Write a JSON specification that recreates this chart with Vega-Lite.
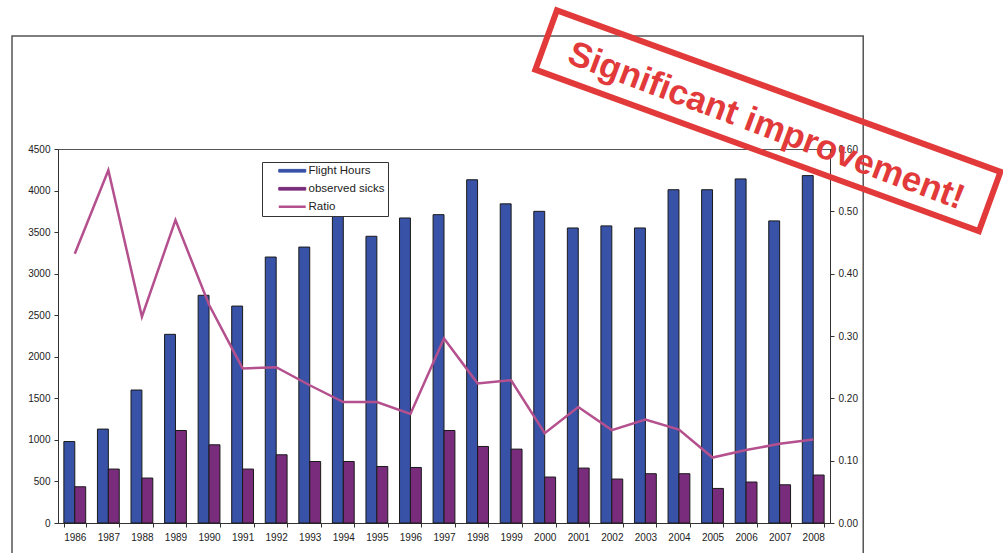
{
  "$schema": "https://vega.github.io/schema/vega-lite/v6.json",
  "width": 772,
  "height": 374,
  "autosize": {"type": "none"},
  "padding": {"left": 58, "top": 149, "right": 173, "bottom": 30},
  "background": "white",
  "config": {
    "font": "Liberation Sans",
    "view": {"stroke": "#555", "strokeWidth": 1},
    "axis": {
      "labelFont": "Liberation Sans",
      "labelFontSize": 10,
      "labelColor": "#222",
      "domainColor": "#333",
      "tickColor": "#333",
      "tickSize": 4,
      "labelPadding": 4,
      "grid": false,
      "title": null
    },
    "legend": {
      "title": null,
      "orient": "none",
      "legendX": 204,
      "legendY": 13,
      "direction": "vertical",
      "fillColor": "white",
      "strokeColor": "#333",
      "padding": 3,
      "symbolOffset": 21.5,
      "labelOffset": 10.5,
      "rowPadding": 5,
      "labelFont": "Liberation Sans",
      "labelFontSize": 11.5,
      "labelColor": "#222",
      "symbolSize": 100
    }
  },
  "datasets": {
    "safety": [
      {"year": 1986, "Flight Hours": 980, "observed sicks": 436, "Ratio": 0.432},
      {"year": 1987, "Flight Hours": 1130, "observed sicks": 649, "Ratio": 0.566},
      {"year": 1988, "Flight Hours": 1600, "observed sicks": 541, "Ratio": 0.331},
      {"year": 1989, "Flight Hours": 2270, "observed sicks": 1113, "Ratio": 0.486},
      {"year": 1990, "Flight Hours": 2740, "observed sicks": 941, "Ratio": 0.350},
      {"year": 1991, "Flight Hours": 2610, "observed sicks": 649, "Ratio": 0.248},
      {"year": 1992, "Flight Hours": 3200, "observed sicks": 821, "Ratio": 0.250},
      {"year": 1993, "Flight Hours": 3320, "observed sicks": 740, "Ratio": 0.221},
      {"year": 1994, "Flight Hours": 3800, "observed sicks": 740, "Ratio": 0.194},
      {"year": 1995, "Flight Hours": 3450, "observed sicks": 680, "Ratio": 0.194},
      {"year": 1996, "Flight Hours": 3670, "observed sicks": 668, "Ratio": 0.175},
      {"year": 1997, "Flight Hours": 3710, "observed sicks": 1113, "Ratio": 0.296},
      {"year": 1998, "Flight Hours": 4130, "observed sicks": 921, "Ratio": 0.224},
      {"year": 1999, "Flight Hours": 3840, "observed sicks": 889, "Ratio": 0.229},
      {"year": 2000, "Flight Hours": 3750, "observed sicks": 553, "Ratio": 0.144},
      {"year": 2001, "Flight Hours": 3550, "observed sicks": 661, "Ratio": 0.186},
      {"year": 2002, "Flight Hours": 3575, "observed sicks": 529, "Ratio": 0.149},
      {"year": 2003, "Flight Hours": 3550, "observed sicks": 593, "Ratio": 0.166},
      {"year": 2004, "Flight Hours": 4010, "observed sicks": 593, "Ratio": 0.150},
      {"year": 2005, "Flight Hours": 4010, "observed sicks": 416, "Ratio": 0.105},
      {"year": 2006, "Flight Hours": 4140, "observed sicks": 493, "Ratio": 0.117},
      {"year": 2007, "Flight Hours": 3635, "observed sicks": 460, "Ratio": 0.127},
      {"year": 2008, "Flight Hours": 4180, "observed sicks": 577, "Ratio": 0.134}
    ]
  },
  "resolve": {"scale": {"x": "independent", "y": "independent"}},
  "layer": [
    {
      "data": {"name": "safety"},
      "transform": [
        {"fold": ["Flight Hours", "observed sicks"], "as": ["series", "value"]}
      ],
      "mark": {"type": "bar", "stroke": "#1a1a1a", "strokeWidth": 1},
      "encoding": {
        "x": {
          "field": "year",
          "type": "ordinal",
          "scale": {"type": "band", "paddingInner": 0.35, "paddingOuter": 0.175},
          "axis": {"labelAngle": 0, "tickBand": "extent", "labelPadding": 5}
        },
        "xOffset": {
          "field": "series",
          "type": "nominal",
          "scale": {"domain": ["Flight Hours", "observed sicks"], "paddingInner": 0, "paddingOuter": 0}
        },
        "y": {
          "field": "value",
          "type": "quantitative",
          "scale": {"domain": [0, 4500], "nice": false},
          "axis": {"orient": "left", "format": "d", "values": [0, 500, 1000, 1500, 2000, 2500, 3000, 3500, 4000, 4500]}
        },
        "color": {
          "field": "series",
          "type": "nominal",
          "scale": {
            "domain": ["Flight Hours", "observed sicks", "Ratio"],
            "range": ["#3752a6", "#7a2c7c", "#b4508e"]
          },
          "legend": {
            "encode": {
              "symbols": {
                "update": {
                  "shape": {"signal": "datum.value === 'Ratio' ? 'M-2.7,0H2.7' : 'M-2.7,-0.27H2.7V0.27H-2.7Z'"},
                  "fill": {"signal": "datum.value === 'Ratio' ? 'transparent' : (datum.value === 'Flight Hours' ? '#3752a6' : '#7a2c7c')"},
                  "stroke": {"signal": "datum.value === 'Ratio' ? '#b4508e' : '#1a1a1a'"},
                  "strokeWidth": {"signal": "datum.value === 'Ratio' ? 2.5 : 1"}
                }
              }
            }
          }
        }
      }
    },
    {
      "data": {"name": "safety"},
      "transform": [
        {"fold": ["Ratio"], "as": ["series", "share"]}
      ],
      "mark": {"type": "line", "strokeWidth": 2.5, "strokeJoin": "miter"},
      "encoding": {
        "x": {
          "field": "year",
          "type": "ordinal",
          "scale": {"type": "band", "paddingInner": 0.35, "paddingOuter": 0.175},
          "axis": null
        },
        "y": {
          "field": "share",
          "type": "quantitative",
          "scale": {"domain": [0, 0.6], "nice": false},
          "axis": {"orient": "right", "values": [0, 0.1, 0.2, 0.3, 0.4, 0.5, 0.6], "format": ".2f"}
        },
        "color": {
          "field": "series",
          "type": "nominal",
          "legend": {
            "encode": {
              "symbols": {
                "update": {
                  "shape": {"signal": "datum.value === 'Ratio' ? 'M-2.7,0H2.7' : 'M-2.7,-0.27H2.7V0.27H-2.7Z'"},
                  "fill": {"signal": "datum.value === 'Ratio' ? 'transparent' : (datum.value === 'Flight Hours' ? '#3752a6' : '#7a2c7c')"},
                  "stroke": {"signal": "datum.value === 'Ratio' ? '#b4508e' : '#1a1a1a'"},
                  "strokeWidth": {"signal": "datum.value === 'Ratio' ? 2.5 : 1"}
                }
              }
            }
          }
        }
      }
    },
    {
      "data": {"values": [{"note": "Significant improvement!"}]},
      "layer": [
        {
          "mark": {"type": "rect", "fillOpacity": 0, "stroke": "#555", "strokeWidth": 1.5},
          "encoding": {
            "x": {"datum": 1984.13, "type": "quantitative", "scale": {"domain": [1985.5, 2008.5], "nice": false, "zero": false}, "axis": null},
            "x2": {"datum": 2009.49},
            "y": {"datum": 5860, "type": "quantitative", "scale": {"domain": [0, 4500], "nice": false}, "axis": null},
            "y2": {"datum": -700}
          }
        },
        {
          "mark": {
            "type": "point",
            "shape": "M-1,-0.1335H1V0.1335H-1Z",
            "size": 222784,
            "angle": 20,
            "filled": false,
            "stroke": "#e23a3a",
            "strokeWidth": 6,
            "opacity": 1
          },
          "encoding": {
            "x": {"datum": 2006.65, "type": "quantitative"},
            "y": {"datum": 4840, "type": "quantitative"}
          }
        },
        {
          "mark": {
            "type": "text",
            "font": "Liberation Sans",
            "fontWeight": "bold",
            "fontSize": 35,
            "angle": 20.5,
            "align": "center",
            "baseline": "middle",
            "fill": "#e23a3a"
          },
          "encoding": {
            "x": {"datum": 2006.6, "type": "quantitative"},
            "y": {"datum": 4780, "type": "quantitative"},
            "text": {"field": "note"}
          }
        }
      ]
    }
  ]
}
